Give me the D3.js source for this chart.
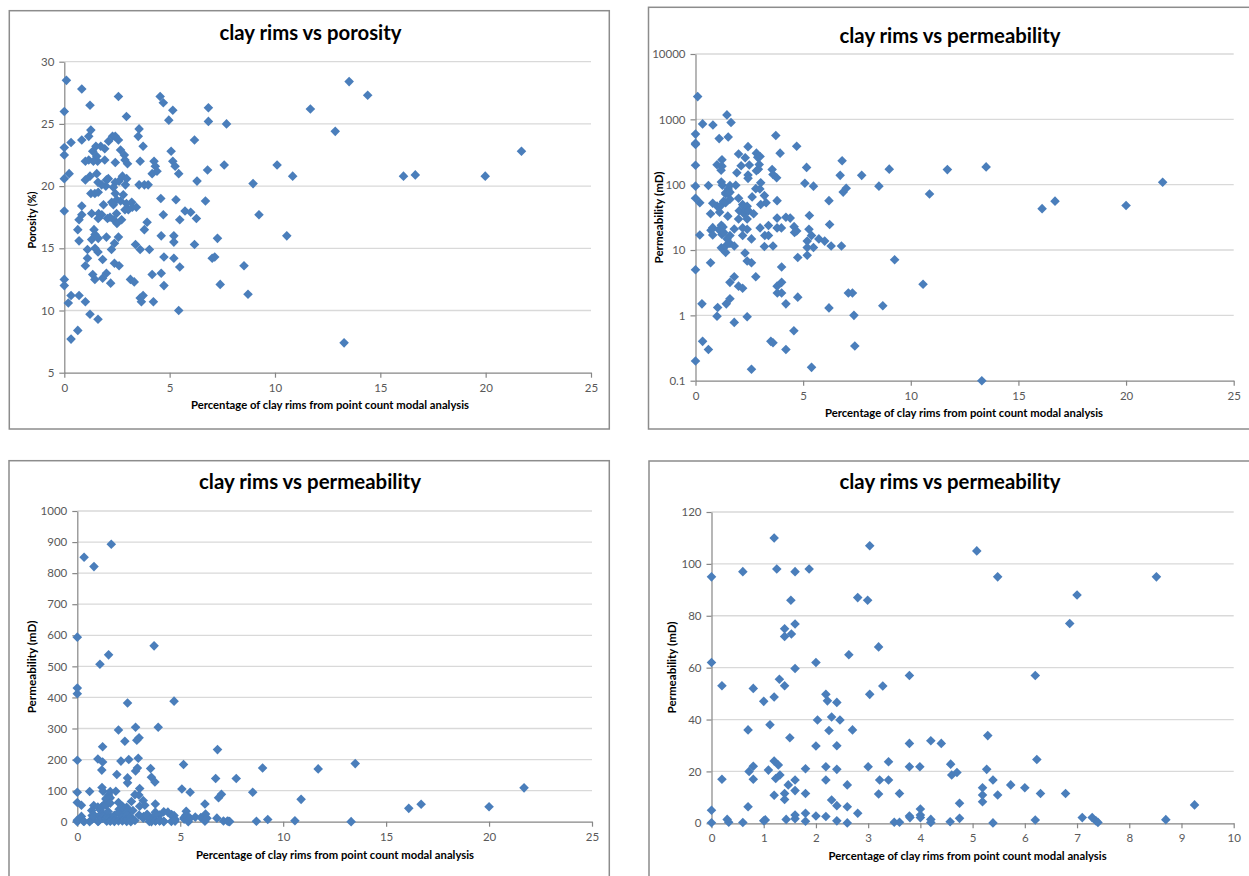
<!DOCTYPE html>
<html>
<head>
<meta charset="utf-8">
<script src="https://cdn.jsdelivr.net/npm/d3@7"></script>
<style>
  body { margin: 0; background: #fff; }
  svg { display: block; }
</style>
</head>
<body>
<svg id="chart" width="1249" height="876"></svg>
<script>
// clay rims (%) vs porosity (%)
const porosityClay = [
  0.1, 0, 0, 0, 0, 0, 0, 0, 0.23, 0.32, 0.32, 0.19, 0.32, 0.64, 0.64, 0.7, 0.7, 0.7, 0.83, 0.83,
  0.83, 0.83, 1.0, 1.0, 1.0, 1.0, 1.1, 1.1, 1.16, 1.16, 1.22, 1.22, 1.26, 1.26, 1.3, 1.3, 1.35, 1.35, 1.41, 1.45,
  1.45, 1.5, 1.54, 1.58, 1.6, 1.6, 1.6, 1.63, 1.73, 1.78, 1.82, 1.82, 1.86, 1.92, 1.92, 1.97, 2.0, 2.0, 2.0, 2.05,
  2.1, 2.2, 2.24, 2.25, 2.29, 2.35, 2.38, 2.38, 2.42, 2.42, 2.42, 2.42, 2.48, 2.5, 2.57, 2.57, 2.57, 2.6, 2.6, 2.67,
  2.67, 2.72, 2.76, 2.8, 2.85, 2.9, 2.95, 2.95, 3.0, 3.04, 3.14, 3.2, 3.23, 3.32, 3.38, 3.42, 3.51, 3.55, 3.55, 3.6,
  3.6, 3.6, 3.66, 3.74, 3.74, 3.8, 3.8, 3.93, 3.98, 4.04, 4.17, 4.17, 4.23, 4.26, 4.32, 4.4, 4.55, 4.58, 4.6, 4.6,
  4.7, 4.7, 4.73, 4.73, 4.96, 5.07, 5.15, 5.15, 5.2, 5.2, 5.2, 5.26, 5.3, 5.43, 5.43, 5.48, 5.48, 5.73, 6.0, 6.18,
  6.18, 6.27, 6.3, 6.7, 6.8, 6.84, 6.84, 7.02, 7.14, 7.27, 7.4, 7.59, 7.7, 8.53, 8.72, 8.96, 9.24, 10.1, 10.56, 10.84,
  11.68, 12.86, 13.28, 13.52, 14.4, 16.1, 16.66, 19.98, 21.7,
  1.54, 1.38, 2.88, 1.22, 2.09, 2.96, 1.77, 2.33, 1.61, 2.49, 2.33, 1.61, 2.17, 2.88, 1.46, 1.61, 1.46
];
const porosity = [
  28.5, 26.0, 23.1, 22.5, 20.6, 18.0, 12.5, 12.0, 21.0, 23.5, 11.2, 10.6, 7.7, 8.4, 16.5, 17.3, 15.6, 11.2, 27.8, 23.7,
  18.4, 17.7, 10.7, 13.6, 20.5, 22.0, 14.2, 14.9, 22.1, 24.0, 26.5, 9.7, 24.5, 19.4, 17.8, 15.7, 12.9, 22.8, 16.5, 19.4,
  12.5, 23.2, 21.0, 22.0, 9.3, 14.7, 20.3, 17.8, 23.2, 17.7, 14.1, 12.6, 18.5, 22.1, 23.0, 20.0, 15.9, 20.5, 13.0, 17.4,
  23.6, 12.2, 14.9, 18.7, 24.0, 17.3, 15.4, 13.8, 21.9, 24.0, 20.3, 19.4, 17.8, 17.0, 27.2, 23.7, 15.9, 13.6, 20.4, 22.9,
  18.8, 17.3, 20.8, 19.3, 22.5, 20.1, 25.6, 18.6, 21.8, 18.1, 12.5, 18.7, 18.3, 12.3, 15.3, 18.3, 24.0, 24.6, 20.1, 22.0,
  14.9, 11.0, 10.7, 11.2, 23.2, 20.1, 16.5, 17.1, 20.1, 14.9, 21.0, 12.9, 10.7, 22.0, 21.6, 21.2, 27.2, 19.0, 16.0, 13.0,
  17.7, 26.7, 14.3, 12.0, 25.3, 22.8, 26.1, 22.0, 16.0, 15.5, 14.2, 21.6, 18.9, 21.0, 10.0, 13.5, 17.3, 18.0, 17.9, 23.7,
  15.3, 17.4, 20.4, 18.8, 21.3, 26.3, 25.2, 14.2, 14.3, 15.8, 12.1, 21.7, 25.0, 13.6, 11.3, 20.2, 17.7, 21.7, 16.0, 20.8,
  26.2, 24.4, 7.4, 28.4, 27.3, 20.8, 20.9, 20.8, 22.8,
  22.4, 22.0, 22.1, 20.8, 20.6, 20.6, 20.1, 19.9, 19.5, 18.9, 18.5, 17.4, 17.5, 18.1, 16.1, 15.8, 15.0
];

// clay rims (%) vs permeability (mD), same samples for the three permeability charts
const permClay = [
  0, 0, 0, 0, 0.2, 0.2, 0.3, 0.33, 0.6, 0.6, 0.7, 0.7, 0.72, 0.8, 0.8, 0.8, 1.0, 1.0, 1.03, 1.09,
  1.12, 1.2, 1.2, 1.2, 1.23, 1.2, 1.25, 1.3, 1.28, 1.31, 1.4, 1.4, 1.4, 1.4, 1.4, 1.43, 1.47, 1.5, 1.52, 1.53,
  1.6, 1.6, 1.6, 1.6, 1.6, 1.6, 1.6, 1.8, 1.8, 1.8, 1.8, 1.87, 2.0, 2.03, 2.0, 2.0, 2.19, 2.22, 2.25, 2.19,
  2.19, 2.19, 2.3, 2.3, 2.4, 2.46, 2.4, 2.4, 2.4, 2.4, 2.63, 2.6, 2.6, 2.6, 2.7, 2.8, 2.8, 2.99, 3.03, 3.03,
  3.0, 3.2, 3.2, 3.22, 3.28, 3.39, 3.39, 3.5, 3.6, 3.6, 3.79, 3.79, 3.79, 3.79, 3.8, 3.99, 4.0, 4.0, 4.0, 4.2,
  4.2, 4.2, 4.4, 4.58, 4.6, 4.57, 4.7, 4.75, 4.75, 5.08, 5.19, 5.19, 5.19, 5.27, 5.29, 5.39, 5.39, 5.48, 5.48, 5.73,
  6.0, 6.2, 6.2, 6.23, 6.3, 6.78, 6.86, 7.0, 7.1, 7.29, 7.36, 7.4, 8.52, 8.7, 9.25,
  0.1, 1.46, 1.65, 0.33, 0.81, 0, 0, 0, 3.73, 1.52, 1.1, 4.7, 2.44, 2.83, 3.93, 2.0, 3.0, 2.89, 2.31, 1.23,
  6.81, 1.0, 2.96, 2.5, 0, 2.12, 1.23, 13.5, 5.16, 9.0, 3.56, 2.92, 11.7, 1.19, 2.83, 1.92, 3.6, 2.44, 6.72, 7.72,
  3.77, 2.44, 21.7, 10.87, 20.0, 16.7, 16.1, 10.57, 13.3
];
const permeability = [
  95, 62, 5, 0.2, 53, 17, 1.5, 0.4, 97, 0.3, 36, 6.4, 20, 52, 22, 17, 47, 0.97, 1.32, 20.5,
  38, 110, 48.7, 24, 17.3, 10.8, 98, 55.5, 22.5, 18.6, 75, 72, 53, 11.5, 9.2, 1.5, 14.8, 33, 86, 73,
  97, 76.8, 59.7, 16.7, 12.6, 3.2, 1.8, 21, 11.5, 3.9, 0.78, 98, 62, 39.8, 29.8, 2.8, 49.7, 47.2, 35.8, 21.8,
  16.7, 2.6, 41, 9, 46.6, 39.8, 29.9, 20.8, 6.8, 0.95, 65, 14.8, 6.4, 0.15, 36, 87, 3.9, 86, 107, 49.7,
  21.8, 68, 11.3, 16.7, 52.9, 23.7, 16.7, 0.4, 11.5, 0.38, 57, 30.8, 21.8, 2.8, 2.2, 21.8, 5.5, 3.2, 2.2, 31.8,
  1.5, 0.3, 30.8, 22.8, 18.6, 0.58, 19.6, 7.7, 1.9, 105, 13.7, 10.9, 8.3, 20.8, 33.8, 16.7, 0.16, 95, 10.9, 14.8,
  13.7, 57, 1.3, 24.6, 11.5, 11.5, 77, 88, 2.2, 2.2, 1.0, 0.34, 95, 1.4, 7.1,
  2230, 1170, 893, 851, 821, 594, 430, 412, 566, 537, 507, 388, 382, 304, 304, 295, 270, 262, 259, 241,
  232, 202, 204, 200, 198, 195, 192, 187, 184, 173, 171, 173, 170, 166, 163, 152, 143, 141, 139, 139,
  128, 125, 109, 72, 48, 56, 43, 3, 0.1
];

// tick labels
const clayTicksWide = [0, 5, 10, 15, 20, 25];
const clayTicksNarrow = [0, 1, 2, 3, 4, 5, 6, 7, 8, 9, 10];
const porosityTicks = [5, 10, 15, 20, 25, 30];
const permLogTicks = [0.1, 1, 10, 100, 1000, 10000];
const permLinTicks = [0, 100, 200, 300, 400, 500, 600, 700, 800, 900, 1000];
const permZoomTicks = [0, 20, 40, 60, 80, 100, 120];

const xLabel = 'Percentage of clay rims from point count modal analysis';

const svg = d3.select('#chart');
const font = 'Lato, "Open Sans", sans-serif';

function drawPanel(cfg) {
  const g = svg.append('g');

  g.append('rect')
    .attr('x', cfg.frame[0]).attr('y', cfg.frame[1])
    .attr('width', cfg.frame[2]).attr('height', cfg.frame[3])
    .attr('fill', '#fff')
    .attr('stroke', '#8c8c8c')
    .attr('stroke-width', 1.5);

  const x = d3.scaleLinear()
    .domain(d3.extent(cfg.xTicks))
    .range(cfg.xRange);
  const y = (cfg.log ? d3.scaleLog() : d3.scaleLinear())
    .domain(d3.extent(cfg.yTicks))
    .range(cfg.yRange);

  // horizontal gridlines
  g.append('g')
    .selectAll('line')
    .data(cfg.yTicks.slice(1))
    .join('line')
    .attr('x1', cfg.xRange[0]).attr('x2', cfg.xRange[1])
    .attr('y1', d => y(d)).attr('y2', d => y(d))
    .attr('stroke', '#d9d9d9')
    .attr('stroke-width', 1.3);

  const yAxis = g.append('g')
    .attr('transform', `translate(${cfg.xRange[0]},0)`)
    .call(d3.axisLeft(y).tickValues(cfg.yTicks).tickFormat(d => String(d))
      .tickSize(5).tickPadding(5).tickSizeOuter(0));

  const xAxis = g.append('g')
    .attr('transform', `translate(0,${cfg.yRange[0]})`)
    .call(d3.axisBottom(x).tickValues(cfg.xTicks).tickFormat(d => String(d))
      .tickSize(5).tickPadding(6).tickSizeOuter(0));

  [xAxis, yAxis].forEach(a => {
    a.attr('font-family', font).attr('font-size', 11.5);
    a.selectAll('.domain, line').attr('stroke', '#868686').attr('stroke-width', 1.2);
    a.selectAll('text').attr('fill', '#595959');
  });

  // Excel hides points that fall outside the axis range
  const xd = x.domain(), yd = y.domain();
  const pts = cfg.xs.map((v, i) => [v, cfg.ys[i]])
    .filter(([a, b]) => a >= xd[0] && a <= xd[1] && b >= yd[0] && b <= yd[1]);

  g.append('g')
    .selectAll('path')
    .data(pts)
    .join('path')
    .attr('d', d3.symbol(d3.symbolSquare, 46))
    .attr('transform', d => `translate(${x(d[0])},${y(d[1])}) rotate(45)`)
    .attr('fill', '#4a7ebb');

  g.append('text')
    .attr('x', cfg.title[1]).attr('y', cfg.title[2])
    .attr('text-anchor', 'middle')
    .attr('font-family', font)
    .attr('font-size', 20)
    .attr('font-weight', 'bold')
    .attr('textLength', cfg.title[3])
    .attr('lengthAdjust', 'spacingAndGlyphs')
    .text(cfg.title[0]);

  g.append('text')
    .attr('x', cfg.xTitle[0]).attr('y', cfg.xTitle[1])
    .attr('text-anchor', 'middle')
    .attr('font-family', font)
    .attr('font-size', 11.5)
    .attr('font-weight', 'bold')
    .attr('textLength', 278)
    .attr('lengthAdjust', 'spacingAndGlyphs')
    .text(xLabel);

  g.append('text')
    .attr('transform', `translate(${cfg.yTitle[1]},${cfg.yTitle[2]}) rotate(-90)`)
    .attr('text-anchor', 'middle')
    .attr('font-family', font)
    .attr('font-size', 11.5)
    .attr('font-weight', 'bold')
    .attr('textLength', cfg.yTitle[3])
    .attr('lengthAdjust', 'spacingAndGlyphs')
    .text(cfg.yTitle[0]);
}

drawPanel({
  frame: [9.3, 10.7, 600, 418.3],
  xRange: [64.3, 591], yRange: [372.7, 61.7],
  xTicks: clayTicksWide, yTicks: porosityTicks,
  xs: porosityClay, ys: porosity,
  title: ['clay rims vs porosity', 310.5, 40, 182],
  xTitle: [330, 409],
  yTitle: ['Porosity (%)', 36, 220, 57]
});

drawPanel({
  frame: [648.5, 7.3, 620, 421.7],
  xRange: [695.5, 1233.7], yRange: [380.7, 54],
  xTicks: clayTicksWide, yTicks: permLogTicks, log: true,
  xs: permClay, ys: permeability,
  title: ['clay rims vs permeability', 950, 42.5, 221],
  xTitle: [964, 417],
  yTitle: ['Permeability (mD)', 663, 217.5, 92]
});

drawPanel({
  frame: [9, 460.7, 600.3, 430],
  xRange: [77.3, 592], yRange: [821.7, 511],
  xTicks: clayTicksWide, yTicks: permLinTicks,
  xs: permClay, ys: permeability,
  title: ['clay rims vs permeability', 310, 489, 222],
  xTitle: [335, 859],
  yTitle: ['Permeability (mD)', 36, 667, 92.7]
});

drawPanel({
  frame: [649, 461, 620, 430],
  xRange: [711.5, 1233.7], yRange: [823.3, 512],
  xTicks: clayTicksNarrow, yTicks: permZoomTicks,
  xs: permClay, ys: permeability,
  title: ['clay rims vs permeability', 950, 489, 221],
  xTitle: [967.6, 860],
  yTitle: ['Permeability (mD)', 676, 667.5, 92]
});
</script>
</body>
</html>
